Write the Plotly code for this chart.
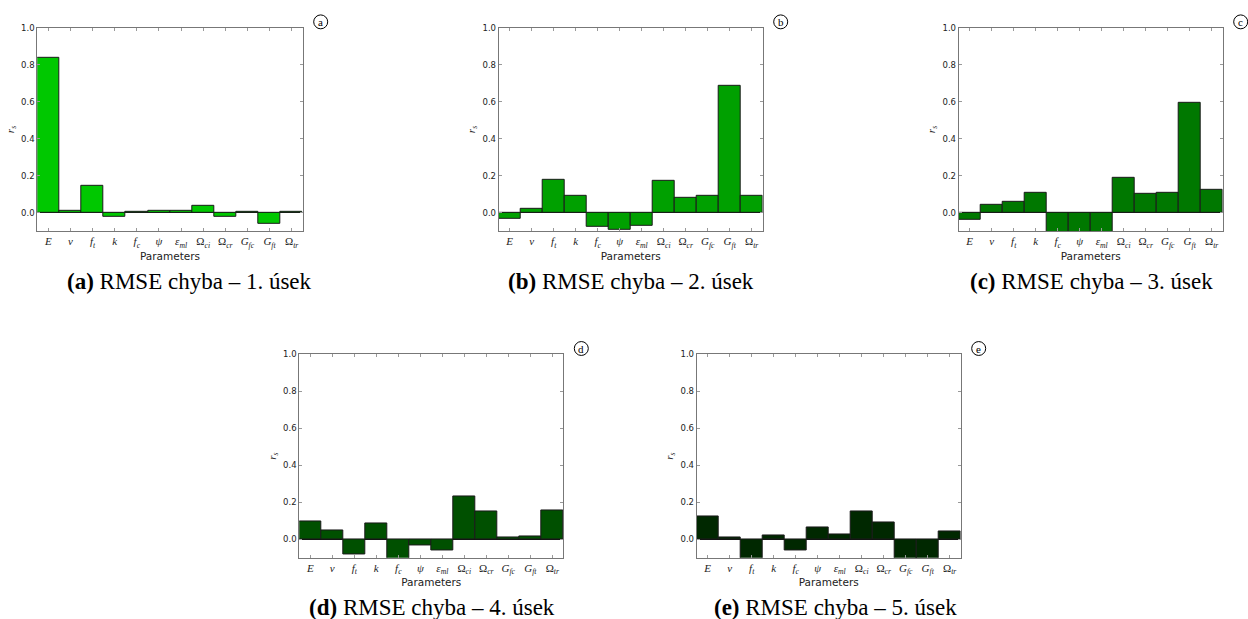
import plotly.graph_objects as go

# ---- data ----
params = ["E", "ν", "f_t", "k", "f_c", "ψ", "ε_ml", "Ω_ci", "Ω_cr", "G_fc", "G_ft", "Ω_tr"]
tick_html = ["<i>E</i>", "<i>ν</i>", "<i>f</i><sub><i>t</i></sub>", "<i>k</i>",
             "<i>f</i><sub><i>c</i></sub>", "<i>ψ</i>", "<i>ε</i><sub><i>ml</i></sub>",
             "Ω<sub><i>ci</i></sub>", "Ω<sub><i>cr</i></sub>", "<i>G</i><sub><i>fc</i></sub>",
             "<i>G</i><sub><i>ft</i></sub>", "Ω<sub><i>tr</i></sub>"]

rmse_1 = [0.837, 0.011, 0.148, -0.025, 0.007, 0.0125, 0.011, 0.039, -0.020, 0.002, -0.061, 0.005]
rmse_2 = [-0.032, 0.021, 0.177, 0.093, -0.075, -0.093, -0.070, 0.172, 0.082, 0.093, 0.687, 0.093]
rmse_3 = [-0.039, 0.045, 0.061, 0.109, -0.12, -0.12, -0.12, 0.190, 0.102, 0.107, 0.597, 0.123]
rmse_4 = [0.095, 0.047, -0.080, 0.088, -0.12, -0.034, -0.061, 0.233, 0.150, 0.0125, 0.016, 0.157]
rmse_5 = [0.123, 0.0125, -0.12, 0.021, -0.059, 0.064, 0.027, 0.150, 0.093, -0.12, -0.12, 0.041]

series = [rmse_1, rmse_2, rmse_3, rmse_4, rmse_5]
letters = ["a", "b", "c", "d", "e"]
captions = ["RMSE chyba – 1. úsek", "RMSE chyba – 2. úsek", "RMSE chyba – 3. úsek",
            "RMSE chyba – 4. úsek", "RMSE chyba – 5. úsek"]
y_ticks = [0.0, 0.2, 0.4, 0.6, 0.8, 1.0]

# ---- styling / layout ----
W, H = 1248, 619
colors = ["#00c800", "#00a000", "#007800", "#005000", "#002800"]
# axes boxes in window pixels: (left, right, top, bottom)
boxes = [(37.3, 302.7, 23, 228), (498.7, 762.7, 23, 228), (958.7, 1222.7, 23, 228),
         (299.3, 563.3, 352.3, 557.3), (696.7, 960.7, 352.3, 557.3)]
caption_pos = [(190, 279), (631, 279), (1091, 279), (432, 607), (835, 607)]


def px(x):
    return x / W


def py(y):
    return 1 - y / H


fig = go.Figure()
layout = dict(width=W, height=H, margin=dict(l=0, r=0, t=0, b=0),
              paper_bgcolor="white", plot_bgcolor="white", showlegend=False,
              bargap=0, annotations=[], shapes=[])

for i, vals in enumerate(series):
    n = i + 1
    xa = "x" if n == 1 else f"x{n}"
    ya = "y" if n == 1 else f"y{n}"
    fig.add_trace(go.Bar(x=list(range(len(params))), y=vals, xaxis=xa, yaxis=ya,
                         marker=dict(color=colors[i], line=dict(color="#1a1a1a", width=1)),
                         width=1.0, hovertext=params))
    l, r, t, b = boxes[i]
    layout["xaxis" + ("" if n == 1 else str(n))] = dict(
        domain=[px(l), px(r)], anchor=ya, range=[-0.5, len(params) - 0.5],
        tickmode="array", tickvals=list(range(len(params))), ticktext=tick_html,
        ticks="inside", ticklen=3, tickcolor="#999", showline=True, linecolor="#777",
        linewidth=1, mirror="ticks", showgrid=False, zeroline=False,
        tickfont=dict(family="Liberation Serif", size=11, color="#222"),
        title=dict(text="Parameters", font=dict(family="DejaVu Sans", size=10.5, color="#222"),
                   standoff=0))
    layout["yaxis" + ("" if n == 1 else str(n))] = dict(
        domain=[py(b), py(t)], anchor=xa, range=[-0.1, 1.0],
        tickmode="array", tickvals=y_ticks, ticktext=[f"{v:.1f}" for v in y_ticks],
        ticks="inside", ticklen=3, tickcolor="#999", showline=True, linecolor="#777",
        linewidth=1, mirror="ticks", showgrid=False, zeroline=True, zerolinecolor="#111",
        zerolinewidth=1,
        tickfont=dict(family="DejaVu Sans", size=8.5, color="#222"),
        title=dict(text="<i>r</i><sub><i>s</i></sub>",
                   font=dict(family="Liberation Serif", size=11, color="#222"), standoff=4))
    # circled letter
    cx, cy = r + 18, t - 6
    rad = 7
    layout["shapes"].append(dict(type="circle", xref="paper", yref="paper",
                                 x0=px(cx - rad), x1=px(cx + rad),
                                 y0=py(cy + rad), y1=py(cy - rad),
                                 line=dict(color="black", width=1)))
    layout["annotations"].append(dict(text=letters[i], x=px(cx), y=py(cy),
                                      xref="paper", yref="paper", showarrow=False,
                                      xanchor="center", yanchor="middle",
                                      font=dict(family="Liberation Serif", size=11, color="black")))
    # caption
    cxp, cyp = caption_pos[i]
    layout["annotations"].append(dict(text=f"<b>({letters[i]})</b> {captions[i]}",
                                      x=px(cxp), y=py(cyp), xref="paper", yref="paper",
                                      showarrow=False, xanchor="center", yanchor="middle",
                                      font=dict(family="Liberation Serif", size=23, color="black")))

fig.update_layout(**layout)
fig.write_html("out.html", config={"displayModeBar": False},
               post_script="document.body.style.margin='0';document.body.style.overflow='hidden';")
